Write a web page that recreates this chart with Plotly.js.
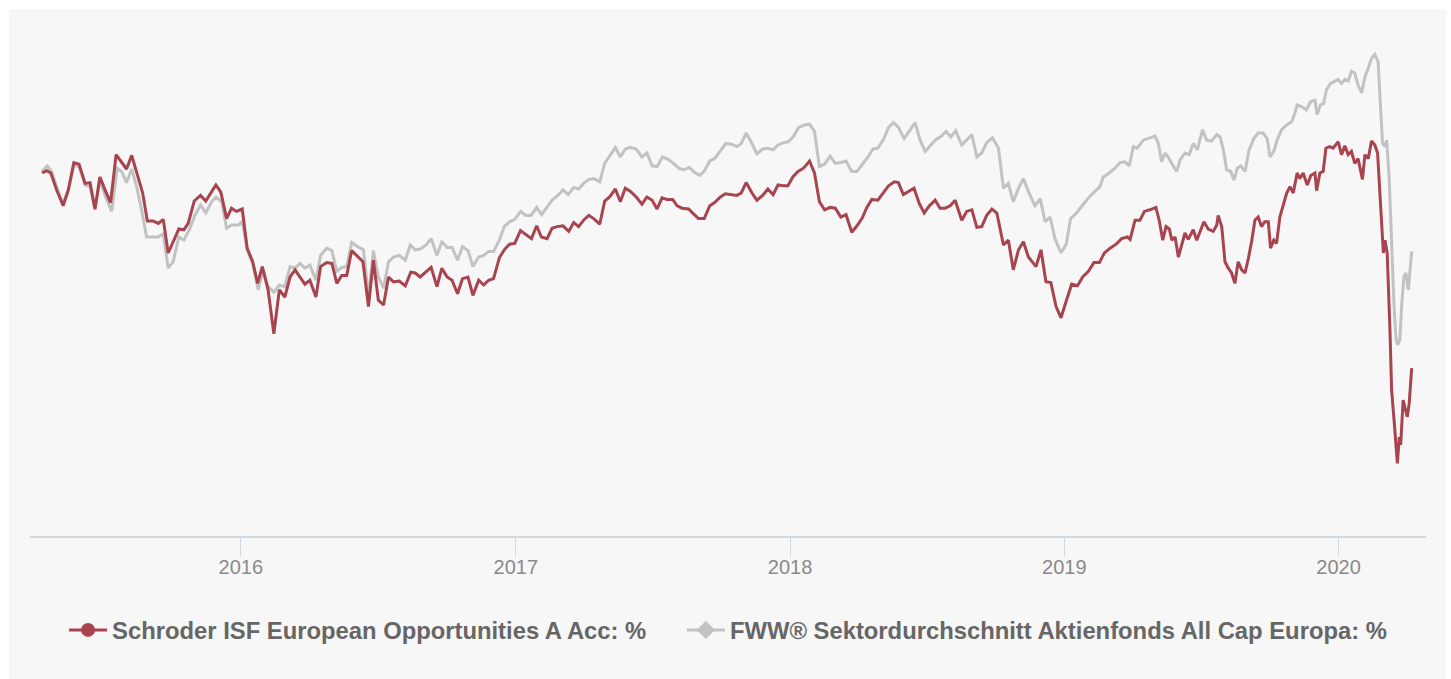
<!DOCTYPE html>
<html>
<head>
<meta charset="utf-8">
<script src="https://cdn.plot.ly/plotly-3.0.1.min.js"></script>
<style>
html,body{margin:0;padding:0;background:#ffffff;}
#wrap{position:absolute;left:9px;top:9px;width:1437px;height:670px;background:#f7f7f7;}
#chart{width:1437px;height:670px;}
</style>
</head>
<body>
<div id="wrap"><div id="chart"></div></div>
<script>
// Series names
var fundName = "Schroder ISF European Opportunities A Acc: %";
var sectorName = "FWW\u00ae Sektordurchschnitt Aktienfonds All Cap Europa: %";

// Time as decimal years
var fundT = [2015.275,2015.292,2015.307,2015.328,2015.352,2015.371,2015.391,2015.410,2015.432,2015.450,
2015.468,2015.486,2015.507,2015.525,2015.545,2015.565,2015.583,2015.602,2015.620,2015.642,
2015.659,2015.680,2015.699,2015.717,2015.735,2015.753,2015.774,2015.792,2015.808,2015.830,
2015.853,2015.872,2015.893,2015.909,2015.927,2015.948,2015.966,2015.984,2016.005,2016.023,
2016.043,2016.061,2016.078,2016.099,2016.120,2016.140,2016.160,2016.179,2016.197,2016.218,
2016.233,2016.251,2016.273,2016.290,2016.312,2016.331,2016.349,2016.367,2016.385,2016.403,
2016.422,2016.444,2016.464,2016.482,2016.500,2016.519,2016.537,2016.555,2016.576,2016.598,
2016.618,2016.634,2016.652,2016.674,2016.692,2016.713,2016.731,2016.750,2016.768,2016.788,
2016.806,2016.826,2016.844,2016.865,2016.883,2016.901,2016.919,2016.940,2016.958,2016.977,
2016.996,2017.017,2017.035,2017.057,2017.076,2017.093,2017.114,2017.132,2017.150,2017.172,
2017.193,2017.211,2017.229,2017.247,2017.266,2017.284,2017.306,2017.324,2017.342,2017.363,
2017.381,2017.399,2017.418,2017.439,2017.460,2017.478,2017.497,2017.515,2017.533,2017.551,
2017.572,2017.588,2017.606,2017.630,2017.648,2017.666,2017.687,2017.707,2017.725,2017.746,
2017.764,2017.786,2017.806,2017.822,2017.840,2017.861,2017.879,2017.900,2017.919,2017.938,
2017.956,2017.974,2017.992,2018.010,2018.029,2018.049,2018.071,2018.089,2018.107,2018.126,
2018.146,2018.165,2018.185,2018.204,2018.225,2018.244,2018.262,2018.280,2018.298,2018.320,
2018.341,2018.359,2018.380,2018.395,2018.413,2018.432,2018.452,2018.471,2018.489,2018.508,
2018.529,2018.547,2018.565,2018.584,2018.602,2018.626,2018.644,2018.663,2018.681,2018.699,
2018.717,2018.736,2018.754,2018.778,2018.796,2018.814,2018.833,2018.851,2018.869,2018.897,
2018.915,2018.933,2018.951,2018.970,2018.988,2019.007,2019.027,2019.048,2019.067,2019.088,
2019.108,2019.128,2019.146,2019.167,2019.189,2019.209,2019.230,2019.240,2019.258,2019.276,
2019.292,2019.312,2019.334,2019.346,2019.359,2019.371,2019.383,2019.392,2019.404,2019.416,
2019.428,2019.440,2019.452,2019.470,2019.483,2019.495,2019.509,2019.525,2019.543,2019.556,
2019.561,2019.574,2019.586,2019.598,2019.610,2019.622,2019.634,2019.647,2019.659,2019.671,
2019.683,2019.695,2019.707,2019.719,2019.731,2019.744,2019.752,2019.764,2019.774,2019.786,
2019.798,2019.811,2019.823,2019.835,2019.849,2019.859,2019.871,2019.886,2019.899,2019.914,
2019.920,2019.932,2019.944,2019.954,2019.968,2019.980,2019.999,2020.011,2020.023,2020.035,
2020.047,2020.059,2020.071,2020.087,2020.096,2020.108,2020.120,2020.132,2020.142,2020.150,
2020.160,2020.163,2020.169,2020.177,2020.187,2020.193,2020.202,2020.209,2020.214,2020.221,
2020.226,2020.235,2020.245,2020.250,2020.257,2020.266];

var fundV = [0.0,0.3,0.0,-2.1,-4.1,-2.1,1.3,1.1,-1.3,-1.2,
-4.5,-0.5,-2.3,-3.7,2.3,1.4,0.5,2.2,0.0,-2.5,
-6.0,-6.0,-6.3,-5.8,-10.0,-8.6,-7.0,-7.1,-6.3,-3.5,
-2.8,-3.5,-2.3,-1.5,-2.4,-5.7,-4.4,-4.8,-4.5,-9.4,
-11.1,-13.8,-11.7,-14.6,-20.1,-14.6,-15.5,-13.0,-12.1,-13.2,
-13.9,-13.4,-15.5,-11.7,-11.2,-11.3,-13.8,-12.8,-12.8,-9.7,
-10.3,-11.1,-16.7,-10.9,-15.9,-16.5,-13.0,-13.6,-13.5,-14.1,
-12.4,-12.5,-13.0,-12.3,-11.8,-14.2,-11.9,-13.0,-13.4,-15.1,
-13.2,-13.0,-15.3,-13.4,-14.0,-13.4,-13.2,-10.6,-9.6,-8.9,
-8.8,-7.2,-7.7,-8.2,-6.6,-8.0,-8.2,-6.9,-6.7,-6.6,
-7.3,-6.2,-6.7,-5.9,-5.3,-5.7,-6.4,-3.5,-3.0,-2.0,
-3.6,-1.9,-2.3,-3.0,-3.9,-3.0,-3.4,-4.5,-3.1,-3.3,
-3.3,-4.1,-4.4,-4.5,-5.1,-5.7,-5.7,-4.1,-3.7,-3.0,
-2.6,-2.7,-2.8,-2.5,-1.2,-2.5,-3.4,-2.8,-2.0,-2.7,
-1.5,-1.6,-1.6,-0.5,0.2,0.6,1.5,0.0,-3.6,-4.6,
-4.3,-4.4,-5.5,-5.2,-7.4,-6.6,-5.7,-4.3,-3.3,-3.4,
-2.5,-1.6,-1.1,-1.2,-2.7,-2.3,-1.9,-3.8,-5.0,-4.1,
-3.4,-4.4,-4.4,-4.1,-3.4,-5.9,-4.8,-4.6,-6.8,-6.7,
-5.3,-4.5,-5.0,-9.0,-8.4,-12.1,-9.6,-8.6,-10.5,-11.7,
-9.6,-13.6,-13.7,-16.7,-18.1,-16.0,-13.9,-14.1,-13.0,-12.3,
-11.2,-11.2,-10.0,-9.4,-8.9,-8.2,-8.0,-8.3,-5.9,-5.9,
-4.8,-4.6,-4.3,-5.9,-8.4,-6.7,-7.0,-8.4,-8.0,-10.5,
-9.0,-7.5,-8.3,-7.1,-8.4,-7.3,-6.1,-7.0,-7.3,-6.5,
-5.3,-6.7,-11.1,-11.9,-12.5,-13.8,-11.1,-12.1,-12.5,-10.7,
-8.6,-5.9,-5.5,-6.7,-6.1,-6.1,-9.4,-8.4,-8.8,-5.5,
-4.0,-2.5,-1.7,-2.5,0.0,-0.7,0.0,-1.5,-0.3,0.0,
-2.2,0.0,0.2,3.1,3.3,3.1,3.9,2.3,3.4,2.3,
2.7,1.2,1.8,-0.8,2.3,1.8,4.0,3.5,2.5,-2.1,
-8.0,-10.0,-8.4,-10.0,-19.6,-27.1,-30.9,-34.0,-36.3,-33.0,
-34.0,-28.4,-30.0,-30.5,-28.8,-24.4];

var sectorT = [2015.275,2015.294,2015.310,2015.334,2015.352,2015.371,2015.391,2015.410,2015.432,2015.450,
2015.468,2015.486,2015.507,2015.529,2015.549,2015.565,2015.583,2015.602,2015.620,2015.638,
2015.656,2015.680,2015.699,2015.717,2015.735,2015.753,2015.774,2015.792,2015.812,2015.832,
2015.853,2015.872,2015.893,2015.909,2015.930,2015.948,2015.966,2015.990,2016.005,2016.023,
2016.043,2016.063,2016.081,2016.099,2016.120,2016.140,2016.160,2016.179,2016.197,2016.215,
2016.233,2016.251,2016.273,2016.290,2016.312,2016.331,2016.349,2016.367,2016.385,2016.403,
2016.424,2016.446,2016.464,2016.482,2016.500,2016.519,2016.537,2016.555,2016.576,2016.598,
2016.616,2016.634,2016.652,2016.674,2016.692,2016.713,2016.731,2016.750,2016.768,2016.788,
2016.806,2016.826,2016.844,2016.865,2016.883,2016.901,2016.919,2016.940,2016.958,2016.977,
2016.996,2017.018,2017.036,2017.056,2017.076,2017.094,2017.114,2017.132,2017.153,2017.172,
2017.191,2017.211,2017.229,2017.247,2017.266,2017.284,2017.306,2017.324,2017.342,2017.363,
2017.381,2017.399,2017.418,2017.439,2017.460,2017.478,2017.497,2017.515,2017.535,2017.555,
2017.575,2017.594,2017.612,2017.633,2017.651,2017.670,2017.687,2017.707,2017.725,2017.746,
2017.766,2017.786,2017.806,2017.822,2017.840,2017.861,2017.879,2017.900,2017.919,2017.938,
2017.956,2017.976,2017.994,2018.013,2018.031,2018.052,2018.071,2018.089,2018.107,2018.126,
2018.146,2018.165,2018.185,2018.204,2018.225,2018.244,2018.266,2018.284,2018.302,2018.320,
2018.341,2018.359,2018.377,2018.395,2018.416,2018.435,2018.456,2018.474,2018.493,2018.513,
2018.533,2018.551,2018.569,2018.586,2018.604,2018.626,2018.644,2018.663,2018.681,2018.699,
2018.717,2018.738,2018.760,2018.778,2018.796,2018.814,2018.833,2018.851,2018.869,2018.893,
2018.912,2018.930,2018.948,2018.966,2018.988,2019.007,2019.023,2019.045,2019.067,2019.091,
2019.112,2019.130,2019.142,2019.164,2019.185,2019.203,2019.221,2019.237,2019.252,2019.266,
2019.288,2019.310,2019.331,2019.343,2019.355,2019.367,2019.379,2019.395,2019.410,2019.422,
2019.440,2019.456,2019.470,2019.485,2019.504,2019.519,2019.537,2019.556,2019.568,2019.580,
2019.592,2019.607,2019.619,2019.631,2019.643,2019.659,2019.674,2019.691,2019.707,2019.725,
2019.740,2019.750,2019.764,2019.776,2019.792,2019.811,2019.829,2019.841,2019.849,2019.865,
2019.883,2019.898,2019.914,2019.922,2019.934,2019.946,2019.956,2019.971,2019.987,2019.999,
2020.011,2020.023,2020.035,2020.047,2020.059,2020.071,2020.084,2020.096,2020.108,2020.120,
2020.132,2020.144,2020.150,2020.160,2020.169,2020.175,2020.184,2020.190,2020.197,2020.202,
2020.209,2020.215,2020.223,2020.230,2020.238,2020.245,2020.254,2020.260,2020.266];

var sectorV = [0.2,0.9,0.2,-2.3,-3.8,-2.1,1.0,0.8,-1.5,-1.7,
-4.6,-0.9,-3.0,-4.8,0.6,0.2,-1.2,0.5,-1.7,-4.6,
-8.0,-8.0,-8.0,-7.6,-11.9,-11.1,-8.0,-8.4,-7.1,-5.3,
-4.0,-5.0,-3.6,-3.0,-3.6,-6.9,-6.5,-6.5,-6.1,-9.6,
-11.3,-14.6,-12.1,-14.2,-14.9,-14.0,-14.2,-11.7,-11.9,-11.3,
-11.9,-11.5,-13.4,-10.3,-9.4,-9.7,-12.3,-11.8,-11.7,-8.7,
-9.2,-9.6,-15.5,-9.7,-13.0,-14.4,-11.1,-10.5,-10.3,-10.9,
-9.0,-9.6,-9.5,-9.0,-8.2,-10.3,-8.6,-9.3,-9.3,-10.9,
-9.2,-9.7,-11.7,-10.5,-10.3,-9.8,-9.8,-8.4,-6.7,-6.1,
-5.8,-4.8,-5.3,-5.3,-4.3,-5.2,-4.3,-3.4,-2.8,-2.1,
-2.7,-1.8,-2.0,-1.3,-0.8,-0.7,-1.1,1.2,2.1,3.2,
2.0,3.0,3.2,3.0,2.0,2.5,0.9,0.8,2.0,1.7,
1.2,0.6,0.4,0.7,0.1,-0.3,0.2,1.5,1.8,2.7,
3.7,3.6,3.3,3.7,5.0,3.7,2.4,3.0,3.1,2.9,
3.5,3.8,3.9,4.6,5.7,6.0,6.1,5.2,0.8,1.1,
2.1,1.2,1.3,1.5,0.2,0.2,1.2,2.0,3.0,3.1,
4.2,5.7,6.3,5.7,4.3,5.2,6.3,4.1,2.7,3.5,
4.2,4.6,5.2,4.5,5.3,3.5,4.2,4.8,2.0,2.5,
3.8,4.4,3.1,-1.9,-1.3,-3.6,-1.9,-0.7,-2.3,-4.1,
-3.2,-6.1,-5.5,-8.2,-10.0,-8.9,-5.7,-5.0,-4.0,-3.0,
-2.3,-1.7,-0.5,0.0,0.6,1.3,1.4,0.9,3.3,3.1,
4.1,4.4,4.6,3.7,1.4,2.5,2.0,1.0,0.2,1.6,
2.5,2.3,3.7,2.9,5.4,4.1,4.0,4.8,4.5,2.9,
0.4,0.2,-0.9,0.6,0.9,0.2,2.9,4.3,5.0,5.0,
4.3,2.0,2.7,4.1,5.4,6.0,6.4,7.5,8.5,8.3,
7.9,8.9,9.1,7.3,8.5,8.7,10.4,11.2,11.5,11.7,
11.2,11.7,11.5,12.7,12.5,11.0,10.0,12.0,13.1,14.3,
14.8,13.9,10.0,3.7,3.3,4.1,-0.5,-6.3,-12.5,-16.7,
-20.7,-21.5,-20.9,-16.3,-13.0,-12.5,-14.6,-12.5,-9.8];

var tickYears = [2016, 2017, 2018, 2019, 2020];

function yrToMs(y) {
  var yr = Math.floor(y);
  var a = Date.UTC(yr, 0, 1), b = Date.UTC(yr + 1, 0, 1);
  return a + (y - yr) * (b - a);
}

var redColor = '#a8444f';
var greyColor = '#c2c2c2';
var fontFamily = 'Liberation Sans, Arial, sans-serif';

var traces = [
  {x: sectorT.map(yrToMs), y: sectorV, type: 'scatter', mode: 'lines', name: sectorName,
   line: {color: greyColor, width: 3}, showlegend: false, hoverinfo: 'skip'},
  {x: fundT.map(yrToMs), y: fundV, type: 'scatter', mode: 'lines', name: fundName,
   line: {color: redColor, width: 3}, showlegend: false, hoverinfo: 'skip'},
  {x: [null], y: [null], type: 'scatter', mode: 'lines+markers', name: fundName, legend: 'legend',
   line: {color: redColor, width: 3}, marker: {color: redColor, size: 14, symbol: 'circle'}},
  {x: [null], y: [null], type: 'scatter', mode: 'lines+markers', name: sectorName, legend: 'legend2',
   line: {color: greyColor, width: 3}, marker: {color: greyColor, size: 14, symbol: 'diamond'}}
];

var legendFont = {size: 23.8, color: '#666666', family: fontFamily, weight: 'bold'};

var layout = {
  width: 1437, height: 670,
  margin: {l: 21, r: 20, t: 11, b: 143, pad: 0},
  paper_bgcolor: '#f7f7f7',
  plot_bgcolor: '#f7f7f7',
  font: {family: fontFamily},
  showlegend: true,
  hovermode: false,
  xaxis: {
    type: 'date',
    range: [yrToMs(2015.2311), yrToMs(2020.3181)],
    tickmode: 'array',
    tickvals: tickYears.map(function (y) { return Date.UTC(y, 0, 1); }),
    ticktext: tickYears.map(String),
    showgrid: false, zeroline: false,
    showline: true, linecolor: '#d2d9e6', linewidth: 2,
    ticks: 'outside', ticklen: 19, tickwidth: 1, tickcolor: '#d2d9e6',
    ticklabelstandoff: -7,
    tickfont: {size: 20, color: '#8a8a8a', family: fontFamily},
    fixedrange: true
  },
  yaxis: {
    range: [-45.375, 19.125],
    visible: false, showgrid: false, zeroline: false, fixedrange: true
  },
  legend: {
    orientation: 'h',
    x: 0.0244, xanchor: 'left',
    y: -0.182, yanchor: 'middle',
    itemwidth: 38,
    bgcolor: 'rgba(0,0,0,0)',
    font: legendFont
  },
  legend2: {
    orientation: 'h',
    x: 0.4670, xanchor: 'left',
    y: -0.182, yanchor: 'middle',
    itemwidth: 38,
    bgcolor: 'rgba(0,0,0,0)',
    font: legendFont
  }
};

Plotly.newPlot('chart', traces, layout, {displayModeBar: false, staticPlot: true});
</script>
</body>
</html>
